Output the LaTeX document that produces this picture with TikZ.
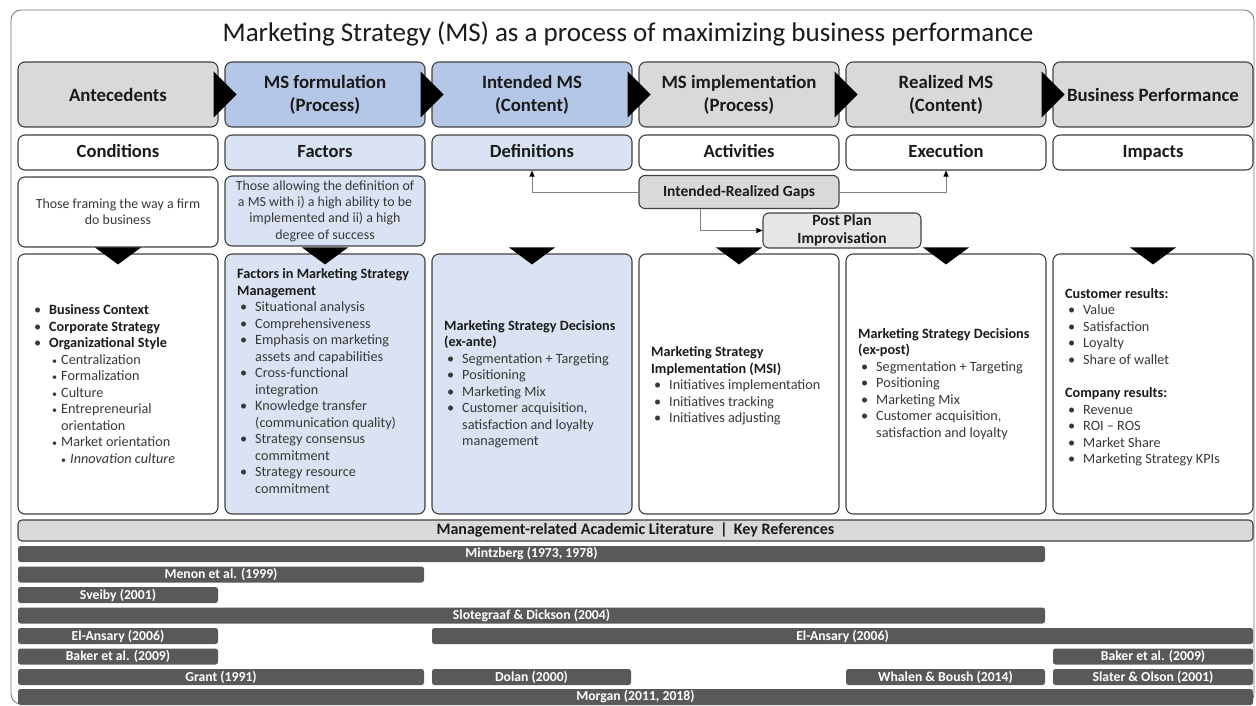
\documentclass[tikz,border=0pt]{standalone}
\usepackage{fontspec}
\setmainfont{Carlito}
\usetikzlibrary{arrows.meta}

\definecolor{edge}{HTML}{404040}
\definecolor{hdrgray}{HTML}{D9D9D9}
\definecolor{hdrblue}{HTML}{B4C7E7}
\definecolor{paleblue}{HTML}{DAE3F3}
\definecolor{postgray}{HTML}{E7E6E6}
\definecolor{barcol}{HTML}{595959}
\definecolor{txt}{HTML}{1A1A1A}
\definecolor{bodytxt}{HTML}{383838}
\definecolor{linkcol}{HTML}{808080}

% list helpers: first level, continuation, second level, its continuation, third level
\newcommand\Li[1]{\hspace*{3pt}\makebox[15pt][l]{\textbullet}#1}
\newcommand\Lc[1]{\hspace*{18pt}#1}
\newcommand\Lii[1]{\hspace*{21pt}\makebox[9pt][l]{\fontsize{10}{10}\selectfont\textbullet}#1}
\newcommand\Lic[1]{\hspace*{30pt}#1}
\newcommand\Liii[1]{\hspace*{30pt}\makebox[9pt][l]{\fontsize{10}{10}\selectfont\textbullet}#1}
\newcommand\Hd[1]{\textcolor{txt}{\textbf{#1}}}

\tikzset{
  box/.style={draw=edge, line width=1.1pt, rounded corners=7pt, minimum width=200pt,
              inner sep=0pt, align=center, text=txt},
  hdr/.style={box, minimum height=65pt, font=\fontsize{18.8}{23}\selectfont\bfseries},
  cond/.style={box, minimum height=35pt, text height=13pt, text depth=4pt,
               font=\fontsize{18.6}{21}\selectfont\bfseries},
  desc/.style={box, minimum height=70pt, text=bodytxt, font=\fontsize{13.9}{16.3}\selectfont},
  lower/.style={box, minimum height=260pt},
  listtext/.style={anchor=west, align=left, inner sep=0pt, text=bodytxt,
                   font=\fontsize{14.2}{16.5}\selectfont},
  gapbox/.style={draw=edge, line width=1.1pt, rounded corners=6pt, inner sep=0pt,
                 align=center, text=txt, font=\fontsize{15.5}{18}\selectfont\bfseries},
  refbar/.style={fill=barcol, rounded corners=2.5pt, minimum height=16pt, inner sep=0pt,
                 text=white, font=\fontsize{13.7}{15}\selectfont\bfseries},
  link/.style={draw=linkcol, line width=0.9pt, -{Triangle[length=6pt,width=5pt,fill=black,color=black]}},
  pointer/.style={fill=black}
}

\begin{document}
\begin{tikzpicture}[x=1pt, y=-1pt]
\useasboundingbox (0,0) rectangle (1256,705);

% outer frame
\draw[draw=black!55, line width=0.8pt, rounded corners=10pt] (11,10) rectangle (1254,704);

% title
\node[text=txt] (title) at (628,34) {\fontsize{27}{30}\selectfont Marketing Strategy (MS) as a process of maximizing business performance};

% header row
\node[hdr, fill=hdrgray] (h1) at (118,94.5) {Antecedents};
\node[hdr, fill=hdrblue] (h2) at (325,94.5) {MS formulation\\(Process)};
\node[hdr, fill=hdrblue] (h3) at (532,94.5) {Intended MS\\(Content)};
\node[hdr, fill=hdrgray] (h4) at (739,94.5) {MS implementation\\(Process)};
\node[hdr, fill=hdrgray] (h5) at (946,94.5) {Realized MS\\(Content)};
\node[hdr, fill=hdrgray] (h6) at (1153,94.5) {Business Performance};

% flow pointers between header boxes
\foreach \a in {h1,h2,h3,h4,h5}{
  \fill[pointer] ([shift={(-5,-23)}]\a.east) -- ([shift={(18,0)}]\a.east) -- ([shift={(-5,23)}]\a.east) -- cycle;
}

% second row
\node[cond, fill=white] (c1) at (118,152.5) {Conditions};
\node[cond, fill=paleblue] (c2) at (325,152.5) {Factors};
\node[cond, fill=paleblue] (c3) at (532,152.5) {Definitions};
\node[cond, fill=white] (c4) at (739,152.5) {Activities};
\node[cond, fill=white] (c5) at (946,152.5) {Execution};
\node[cond, fill=white] (c6) at (1153,152.5) {Impacts};

% descriptions
\node[desc, fill=white] (d1) at (118,212) {\raisebox{9pt}{\parbox{190pt}{\centering Those framing the way a firm\\do business}}};
\node[desc, fill=paleblue] (d2) at (325,211) {Those allowing the definition of\\a MS with i) a high ability to be\\implemented and ii) a high\\degree of success};

% gap boxes
\node[gapbox, fill=hdrgray, minimum width=200pt, minimum height=33pt] (gap) at (739,192) {Intended-Realized Gaps};
\node[gapbox, fill=postgray, minimum width=158pt, minimum height=35pt] (post) at (842,230.5) {Post Plan\\Improvisation};

\draw[link] (gap.west) -| (c3.south);
\draw[link] (gap.east) -| (c5.south);
\draw[link] ([xshift=-39pt]gap.south) |- (post.west);

% lower content boxes
\node[lower, fill=white] (l1) at (118,384) {};
\node[lower, fill=paleblue] (l2) at (325,384) {};
\node[lower, fill=paleblue] (l3) at (532,384) {};
\node[lower, fill=white] (l4) at (739,384) {};
\node[lower, fill=white] (l5) at (946,384) {};
\node[lower, fill=white] (l6) at (1153,384) {};

\foreach \b in {l1,l2,l3,l4,l5,l6}{
  \fill[pointer] ([shift={(-23,-6)}]\b.north) -- ([shift={(23,-6)}]\b.north) -- ([shift={(0,11)}]\b.north) -- cycle;
}

\node[listtext] (t1) at (31,384) {%
\Li{\Hd{Business Context}}\\
\Li{\Hd{Corporate Strategy}}\\
\Li{\Hd{Organizational Style}}\\
\Lii{Centralization}\\
\Lii{Formalization}\\
\Lii{Culture}\\
\Lii{Entrepreneurial}\\
\Lic{orientation}\\
\Lii{Market orientation}\\
\Liii{\textit{Innovation culture}}};

\node[listtext] (t2) at (237,381) {%
\Hd{Factors in Marketing Strategy}\\
\Hd{Management}\\
\Li{Situational analysis}\\
\Li{Comprehensiveness}\\
\Li{Emphasis on marketing}\\
\Lc{assets and capabilities}\\
\Li{Cross-functional}\\
\Lc{integration}\\
\Li{Knowledge transfer}\\
\Lc{(communication quality)}\\
\Li{Strategy consensus}\\
\Lc{commitment}\\
\Li{Strategy resource}\\
\Lc{commitment}};

\node[listtext] (t3) at (444,384) {%
\Hd{Marketing Strategy Decisions}\\
\Hd{(ex-ante)}\\
\Li{Segmentation + Targeting}\\
\Li{Positioning}\\
\Li{Marketing Mix}\\
\Li{Customer acquisition,}\\
\Lc{satisfaction and loyalty}\\
\Lc{management}};

\node[listtext] (t4) at (651,386) {%
\Hd{Marketing Strategy}\\
\Hd{Implementation (MSI)}\\
\Li{Initiatives implementation}\\
\Li{Initiatives tracking}\\
\Li{Initiatives adjusting}};

\node[listtext] (t5) at (858,384) {%
\Hd{Marketing Strategy Decisions}\\
\Hd{(ex-post)}\\
\Li{Segmentation + Targeting}\\
\Li{Positioning}\\
\Li{Marketing Mix}\\
\Li{Customer acquisition,}\\
\Lc{satisfaction and loyalty}};

\node[listtext] (t6) at (1065,377) {%
\Hd{Customer results:}\\
\Li{Value}\\
\Li{Satisfaction}\\
\Li{Loyalty}\\
\Li{Share of wallet}\\[17pt]
\Hd{Company results:}\\
\Li{Revenue}\\
\Li{ROI -- ROS}\\
\Li{Market Share}\\
\Li{Marketing Strategy KPIs}};

% literature band
\node[draw=edge, line width=1.1pt, fill=hdrgray, rounded corners=4pt, minimum width=1235pt,
      minimum height=21pt, inner sep=0pt, text=txt, font=\fontsize{16}{18}\selectfont\bfseries]
      (lit) at (635.5,530.5) {Management-related Academic Literature \,|\, Key References};

% key references: span from x1 to x2, row top y
\newcommand\RefBar[5]{\node[refbar, minimum width={#3-#2}] (#1) at ({(#2+#3)/2},{#4+8}) {#5};}
\RefBar{mintz}{18}{1045}{546}{Mintzberg (1973, 1978)}
\RefBar{menon}{18}{424}{566.5}{Menon et al. (1999)}
\RefBar{sveiby}{18}{218}{587}{Sveiby (2001)}
\RefBar{slote}{18}{1045}{607.5}{Slotegraaf \& Dickson (2004)}
\RefBar{elansA}{18}{218}{628}{El-Ansary (2006)}
\RefBar{elansB}{432}{1253}{628}{El-Ansary (2006)}
\RefBar{bakerA}{18}{218}{648.5}{Baker et al. (2009)}
\RefBar{bakerB}{1053}{1253}{648.5}{Baker et al. (2009)}
\RefBar{grant}{18}{424}{669}{Grant (1991)}
\RefBar{dolan}{432}{631}{669}{Dolan (2000)}
\RefBar{whalen}{846}{1045}{669}{Whalen \& Boush (2014)}
\RefBar{slater}{1053}{1253}{669}{Slater \& Olson (2001)}
\RefBar{morgan}{18}{1253}{689}{Morgan (2011, 2018)}
\end{tikzpicture}
\end{document}
